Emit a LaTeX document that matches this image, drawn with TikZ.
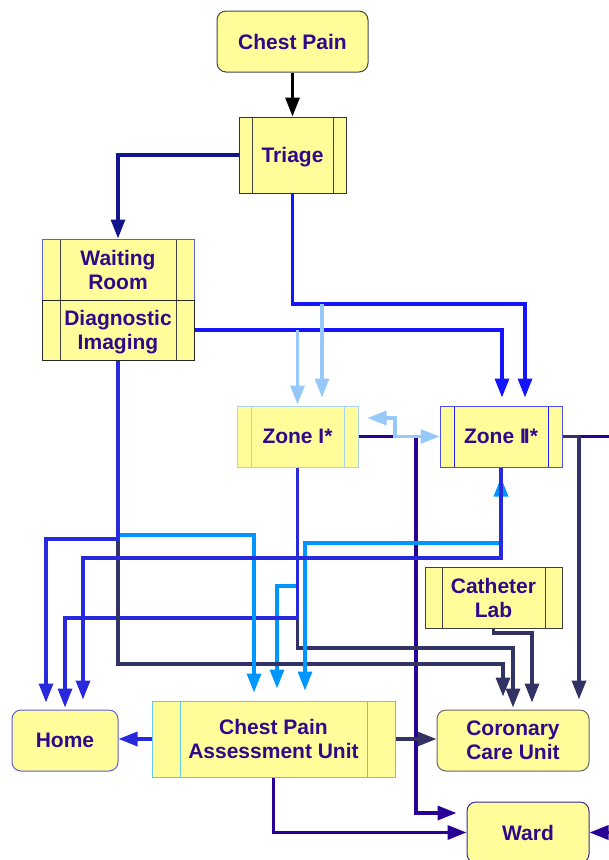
\documentclass[tikz,border=0pt]{standalone}
\usepackage{fontspec}
\setmainfont{Liberation Sans}
\usetikzlibrary{arrows.meta}

\definecolor{boxfill}{RGB}{255,253,153}
\definecolor{labelc}{RGB}{45,10,140}
\definecolor{edgeDark}{RGB}{70,70,70}
\definecolor{edgeBlue}{RGB}{95,95,215}
\definecolor{edgePale}{RGB}{170,210,240}
\definecolor{edgeZone}{RGB}{80,80,230}
\definecolor{barZone}{RGB}{30,30,230}
\definecolor{edgeCyan}{RGB}{100,200,225}
\definecolor{edgeWard}{RGB}{60,40,150}
\definecolor{cNavy}{RGB}{20,20,140}
\definecolor{cBright}{RGB}{20,20,255}
\definecolor{cPale}{RGB}{150,200,250}
\definecolor{cIndigo}{RGB}{40,0,150}
\definecolor{cViolet}{RGB}{40,40,220}
\definecolor{cSky}{RGB}{0,150,255}
\definecolor{cSlate}{RGB}{50,50,100}

\tikzset{
  box/.style={draw=edgeDark, fill=boxfill, line width=1pt, text=labelc,
    font=\fontsize{21}{24}\selectfont\bfseries, align=center, inner sep=0pt},
  roundbox/.style={box, rounded corners=9pt},
  sidebars/.style 2 args={path picture={
    \draw[line width=1pt,#2]
      ([xshift=#1]path picture bounding box.north west) -- ([xshift=#1]path picture bounding box.south west)
      ([xshift=-#1]path picture bounding box.north east) -- ([xshift=-#1]path picture bounding box.south east);}},
  ln/.style={line width=3.3pt, ->},
}

\begin{document}
\begin{tikzpicture}[x=1pt, y=-1pt, >={Triangle[length=19pt,width=14pt]}]
\useasboundingbox (0,0) rectangle (609,860);
\clip (0,0) rectangle (609,860);

% ---------- units ----------
\node[roundbox, minimum width=151pt, minimum height=61pt] (cp) at (292.5,41.5) {Chest Pain};
\node[box, draw=black!80, minimum width=107pt, minimum height=76pt, text depth=0pt, sidebars={13pt}{black!75}] (triage) at (292.5,155) {Triage};
\node[box, draw=edgeBlue, minimum width=152pt, minimum height=61pt, sidebars={18pt}{black!75}] (wait) at (118,269.5) {Waiting\\Room};
\node[box, draw=black!85, minimum width=152pt, minimum height=60pt, text depth=0pt, sidebars={18pt}{black!75}] (diag) at (118,330) {Diagnostic\\Imaging};
\node[box, draw=edgePale, minimum width=121pt, minimum height=61pt, sidebars={14pt}{edgePale}] (zone1) at (297.5,436.5) {Zone I*};
\node[box, draw=edgeZone, minimum width=122pt, minimum height=61pt, sidebars={14pt}{barZone}] (zone2) at (501,436.5) {Zone I\kern-2pt I*};
\node[box, draw=black!75, minimum width=137pt, minimum height=61pt, sidebars={17pt}{black!75}] (cath) at (493.5,597.5) {Catheter\\Lab};
\node[roundbox, draw=edgeBlue, minimum width=106pt, minimum height=61pt] (home) at (65,740.5) {Home};
\node[box, draw=edgeCyan, minimum width=243pt, minimum height=76pt, sidebars={28pt}{edgeCyan}] (cpau) at (273.5,739) {Chest Pain\\Assessment Unit};
\node[roundbox, draw=black!60, minimum width=152pt, minimum height=61pt] (ccu) at (513,740.5) {Coronary\\Care Unit};
\node[roundbox, draw=edgeWard, minimum width=122pt, minimum height=61pt] (ward) at (528,832.5) {Ward};

% ---------- junctions on shared routes ----------
\coordinate (jTri) at (322,304);
\coordinate (jDiag) at (297.5,330);
\coordinate (jZoneI) at (297.5,586);
\coordinate (jDiagLow) at (118,535);

% ---------- upper flows ----------
\draw[ln, black] (cp.south) -- (triage.north);
\draw[ln, cNavy] (triage.west) -| (wait.north);
\draw[ln, cBright, shorten >=8pt] (triage.south) |- (525,304) -- ([xshift=24pt]zone2.north);
\draw[ln, cBright, shorten >=8pt] (diag.east) -| ([xshift=1pt]zone2.north);
\draw[ln, cPale, shorten >=8pt] (jTri) -- ([xshift=24.5pt]zone1.north);
\draw[ln, cPale, shorten >=1pt] (jDiag) -- (zone1.north);

% ---------- zone routes ----------
\draw[ln, cIndigo, shorten >=10pt] (zone1.east) -| (416,813) -- ([yshift=19.5pt]ward.west);
\draw[ln, cPale, <->] ([xshift=9pt,yshift=18.5pt]zone1.east) -| (395,436.5) -- (zone2.west);
\draw[ln, cIndigo] (zone2.east) -- (625,436.5) |- (ward.east);
\draw[ln, cSlate, shorten >=10pt] (zone2.east) -| ([xshift=66pt]ccu.north);

% from Zone I
\draw[ln, cSlate, shorten >=2pt] (zone1.south) -- (297.5,648) -| (ccu.north);
\draw[ln, cSky, shorten >=12pt] (jZoneI) -| ([xshift=3.5pt]cpau.north);
\draw[ln, cViolet, shorten >=2pt] (zone1.south) -- (297.5,618) -| (home.north);

% from Diagnostic Imaging
\draw[ln, cSlate, shorten >=13pt] (diag.south) -- (118,664) -| ([xshift=-10pt]ccu.north);
\draw[ln, cSky, shorten >=8pt] (jDiagLow) -| ([xshift=-19.5pt]cpau.north);
\draw[ln, cViolet, shorten >=7pt] (diag.south) -- (118,539) -| ([xshift=-19pt]home.north);

% between Zone II and the lower units
\draw[ln, cSky, <->, shorten <=10pt, shorten >=10pt] (zone2.south) -- (501,543) -| ([xshift=31.5pt]cpau.north);
\draw[ln, cViolet, shorten >=10pt] (zone2.south) -- (501,558) -| ([xshift=18pt]home.north);

% Catheter Lab
\draw[ln, cSlate, shorten >=7pt] (cath.south) -- (493.5,633) -| ([xshift=19pt]ccu.north);

% ---------- from the assessment unit ----------
\draw[ln, cViolet] (cpau.west) -- (cpau.west -| home.east);
\draw[ln, cSlate] (cpau.east) -- (cpau.east -| ccu.west);
\draw[ln, cIndigo] (cpau.south) |- (ward.west);
\end{tikzpicture}
\end{document}
